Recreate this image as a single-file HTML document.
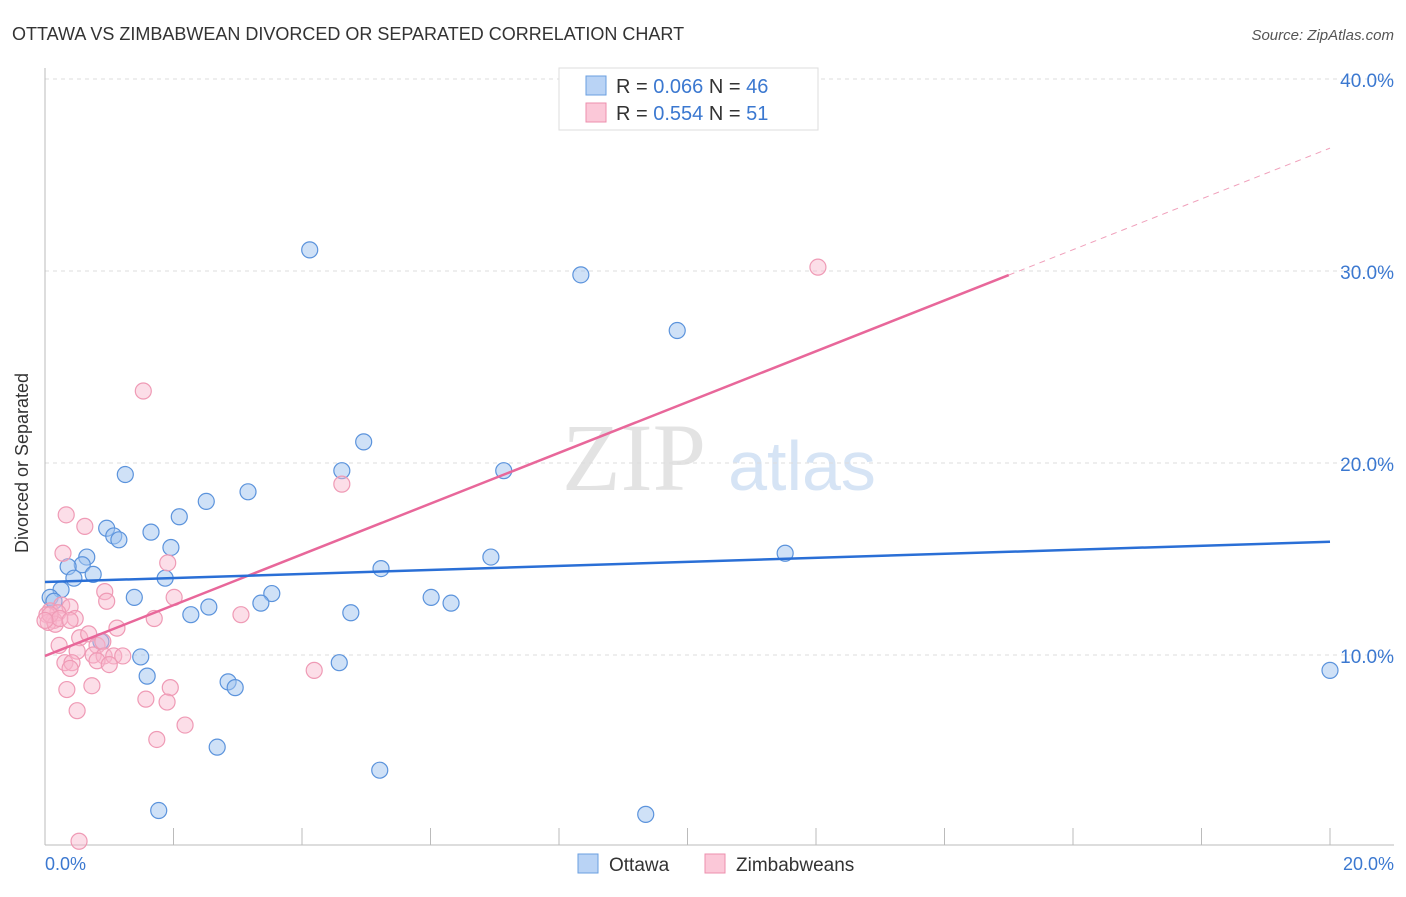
<!DOCTYPE html>
<html><head><meta charset="utf-8"><style>
body{margin:0;background:#fff;font-family:"Liberation Sans",sans-serif}
</style></head><body>
<svg width="1406" height="892" xmlns="http://www.w3.org/2000/svg" style="font-family:'Liberation Sans',sans-serif">
<text x="12" y="40" font-size="18" fill="#333">OTTAWA VS ZIMBABWEAN DIVORCED OR SEPARATED CORRELATION CHART</text>
<text x="1394" y="40" font-size="15" fill="#555" text-anchor="end" font-style="italic">Source: ZipAtlas.com</text>
<text x="634" y="490" font-size="96" fill="#e3e3e3" font-family="Liberation Serif,serif" text-anchor="middle">ZIP</text>
<text x="802" y="490" font-size="70" fill="#d6e4f5" text-anchor="middle">atlas</text>
<g id="grid"></g>
<line x1="45" y1="68" x2="45" y2="845" stroke="#bbb"/>
<line x1="45" y1="845" x2="1394" y2="845" stroke="#bbb"/>
<g id="ticks"></g>
<g id="marks"></g>
<text x="20" y="455" font-size="18" fill="#333" transform="rotate(-90 28 455)" text-anchor="middle">Divorced or Separated</text>
<text x="45" y="870" font-size="18" fill="#3b78d0">0.0%</text>
<text x="1394" y="870" font-size="18" fill="#3b78d0" text-anchor="end">20.0%</text>
<g>
<rect x="559" y="68" width="259" height="62" fill="#fff" stroke="#ddd"/>
<rect x="586" y="76" width="20" height="19" fill="#b9d3f5" stroke="#6a9fe0"/>
<rect x="586" y="103" width="20" height="19" fill="#fbc8d8" stroke="#ec8fae"/>
<text x="616" y="93" font-size="20" fill="#333">R = <tspan fill="#3b78d0">0.066</tspan>   N = <tspan fill="#3b78d0">46</tspan></text>
<text x="616" y="120" font-size="20" fill="#333">R = <tspan fill="#3b78d0">0.554</tspan>   N =  <tspan fill="#3b78d0">51</tspan></text>
</g>
<g>
<rect x="578" y="854" width="20" height="19" fill="#b9d3f5" stroke="#6a9fe0"/>
<text x="609" y="871" font-size="19" fill="#333">Ottawa</text>
<rect x="705" y="854" width="20" height="19" fill="#fbc8d8" stroke="#ec8fae"/>
<text x="736" y="871" font-size="19" fill="#333">Zimbabweans</text>
</g>
</svg>
<script>
const yTicks=[10,20,30,40];
const yTickLabels=["10.0%","20.0%","30.0%","40.0%"];
const xTicks=[0,2,4,6,8,10,12,14,16,18,20];
const ottawaX=[4.12,8.34,9.84,4.96,4.62,7.14,1.25,3.16,2.51,2.09,0.96,1.65,1.07,1.15,1.96,0.65,6.94,11.52,0.58,0.36,5.23,0.75,0.45,1.87,0.25,3.53,0.08,1.39,6.01,0.14,6.32,3.36,2.55,4.76,2.27,0.87,1.49,4.58,1.59,2.85,2.96,20.0,2.68,5.21,1.77,9.35];
const ottawaY=[31.1,29.8,26.9,21.1,19.6,19.6,19.4,18.5,18.0,17.2,16.6,16.4,16.2,16.0,15.6,15.1,15.1,15.3,14.7,14.6,14.5,14.2,14.0,14.0,13.4,13.2,13.0,13.0,13.0,12.8,12.7,12.7,12.5,12.2,12.1,10.7,9.9,9.6,8.9,8.6,8.3,9.2,5.2,4.0,1.9,1.7];
const zimX=[1.53,12.03,4.62,0.33,0.62,0.28,1.91,0.93,2.01,0.96,0.26,0.39,0.08,0.2,0.03,0.47,0.14,0.05,0.16,1.7,3.05,1.12,0.54,0.68,0.22,0.81,0.9,0.5,0.75,0.92,1.07,1.21,0.81,0.31,0.42,1.0,0.39,4.19,0.73,0.34,1.95,1.57,1.9,0.5,2.18,1.74,0.53,0.08,0.23,0.0,0.39];
const zimY=[23.75,30.2,18.9,17.3,16.7,15.3,14.8,13.3,13.0,12.8,12.6,12.5,12.3,12.2,12.1,11.9,11.8,11.7,11.6,11.9,12.1,11.4,10.9,11.1,10.5,10.5,10.7,10.2,10.0,9.95,9.95,9.95,9.7,9.6,9.6,9.5,9.3,9.2,8.4,8.2,8.3,7.7,7.55,7.1,6.35,5.6,0.3,12.1,11.9,11.8,11.8];
const ottawaTrend=[13.8,15.9];
const zimTrend=[9.95,36.4];
const zimSolidEnd=15;
const sx=v=>45+v/20*1285, sy=v=>847-v*19.2;
const NS="http://www.w3.org/2000/svg";
function mk(tag,attrs,parent){const e=document.createElementNS(NS,tag);for(const k in attrs)e.setAttribute(k,attrs[k]);parent.appendChild(e);return e;}
const grid=document.getElementById('grid'),ticks=document.getElementById('ticks'),marks=document.getElementById('marks');
yTicks.forEach((t,i)=>{
 const l=mk('line',{x1:45,x2:1394,y1:sy(t),y2:sy(t),stroke:'#ddd','stroke-dasharray':'4,4'},grid);
 
 
 const tx=mk('text',{x:1394,y:sy(t)+8,'font-size':19,fill:'#3b78d0','text-anchor':'end'},grid);
 tx.textContent=yTickLabels[i];
 
 
});
xTicks.forEach(t=>{
 const l=mk('line',{x1:sx(t),x2:sx(t),y1:828,y2:845,stroke:'#bbb'},ticks);
 
 
});
ottawaX.forEach((x,i)=>{
 const c=mk('circle',{cx:sx(x),cy:sy(ottawaY[i]),r:8,fill:'rgba(160,196,240,0.5)',stroke:'#5b93dc','stroke-width':1.2},marks);
 
 
});
zimX.forEach((x,i)=>{
 const c=mk('circle',{cx:sx(x),cy:sy(zimY[i]),r:8,fill:'rgba(248,182,204,0.45)',stroke:'#ef9ab5','stroke-width':1.2},marks);
 
 
});
const zy=x=>zimTrend[0]+(zimTrend[1]-zimTrend[0])*x/20;
const d=mk('line',{x1:sx(zimSolidEnd),y1:sy(zy(zimSolidEnd)),x2:sx(20),y2:sy(zimTrend[1]),stroke:'#f0a0bb','stroke-dasharray':'6,5'},marks);


const zl=mk('line',{x1:sx(0),y1:sy(zimTrend[0]),x2:sx(zimSolidEnd),y2:sy(zy(zimSolidEnd)),stroke:'#e8679a','stroke-width':2.5},marks);


const ol=mk('line',{x1:sx(0),y1:sy(ottawaTrend[0]),x2:sx(20),y2:sy(ottawaTrend[1]),stroke:'#2a6fd6','stroke-width':2.5},marks);


</script>
</body></html>
